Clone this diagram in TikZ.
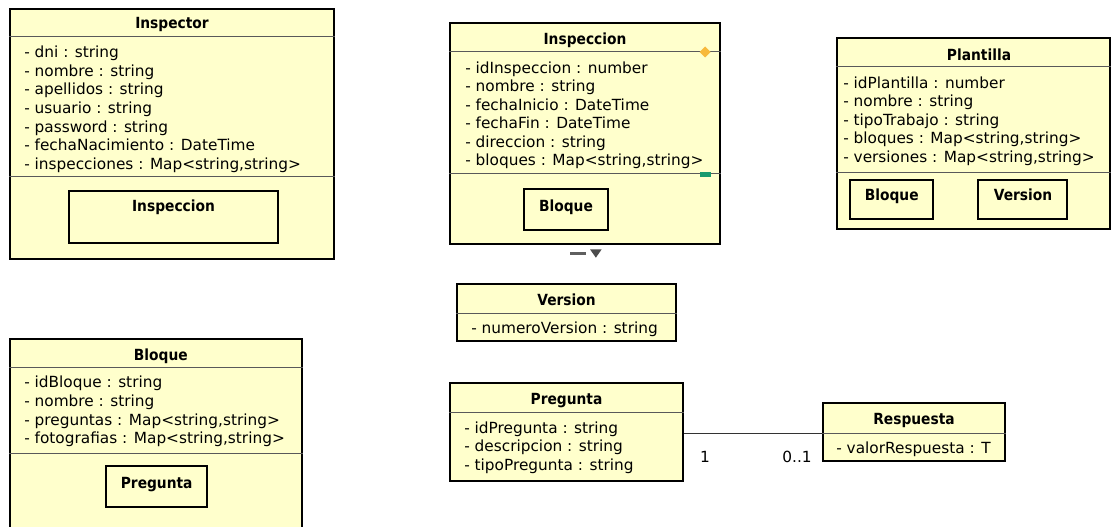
\documentclass[tikz,border=0pt]{standalone}
\usepackage{fontspec}
\setmainfont{DejaVu Sans}
\newfontfamily\titlefont{DejaVu Sans}[FakeStretch=0.9]
\usetikzlibrary{fit}
\definecolor{classfill}{RGB}{255,255,204}
\definecolor{markorange}{RGB}{247,185,60}
\definecolor{markgreen}{RGB}{24,155,110}
\definecolor{markgray}{RGB}{95,95,95}
\tikzset{
  classbox/.style={draw=black, line width=1.5pt, fill=classfill, inner sep=0pt},
  partbox/.style={draw=black, line width=1.5pt, inner sep=0pt},
  divider/.style={draw=black!65, line width=0.75pt},
  assoc/.style={draw=black!80, line width=0.75pt},
  title/.style={anchor=base, inner sep=0pt, font=\titlefont\bfseries\fontsize{11.5}{13}\selectfont},
  attr/.style={anchor=base west, inner sep=0pt, font=\fontsize{11.5}{13}\selectfont},
  mult/.style={inner sep=0pt, font=\fontsize{11.5}{13}\selectfont},
}
\begin{document}
\begin{tikzpicture}[x=0.75pt, y=-0.75pt]
\useasboundingbox (0,0) rectangle (1112,527);
\clip (0,0) rectangle (1112,527);

% ---------- Inspector ----------
\node[classbox, fit={(10,9) (334,259)}] (inspector) {};
\draw[divider] (inspector.west |- 0,37) -- (inspector.east |- 0,37);
\draw[divider] (inspector.west |- 0,177) -- (inspector.east |- 0,177);
\node[title] (inspector-title) at (172,29) {Inspector};
\foreach \t [count=\i] in {{- dni : string}, {- nombre : string}, {- apellidos : string},
    {- usuario : string}, {- password : string}, {- fechaNacimiento : DateTime},
    {- inspecciones : Map<string,string>}}
  \node[attr, name=inspector-a\i] at ({24},{57.7+18.6*(\i-1)}) {\t};
\node[partbox, fit={(69,191) (278,243)}] (inspector-part) {};
\node[title] (inspector-part-label) at (173.5,211) {Inspeccion};

% ---------- Inspeccion ----------
\node[classbox, fit={(450,23) (720,244)}] (inspeccion) {};
\draw[divider] (inspeccion.west |- 0,52) -- (inspeccion.east |- 0,52);
\draw[divider] (inspeccion.west |- 0,174) -- (inspeccion.east |- 0,174);
\node[title] (inspeccion-title) at (585,44.3) {Inspeccion};
\foreach \t [count=\i] in {{- idInspeccion : number}, {- nombre : string},
    {- fechaInicio : DateTime}, {- fechaFin : DateTime}, {- direccion : string},
    {- bloques : Map<string,string>}}
  \node[attr, name=inspeccion-a\i] at ({465},{73.3+18.5*(\i-1)}) {\t};
\node[partbox, fit={(524,189) (608,230)}] (inspeccion-part) {};
\node[title] (inspeccion-part-label) at (566,211) {Bloque};
% markers on the compartments
\fill[markorange] (705,46.5) -- (710.5,52) -- (705,57.5) -- (699.5,52) -- cycle;
\fill[markgreen] (700.3,171.7) rectangle (710.7,177);
% collapse handle under the class
\fill[markgray] (570,251.5) rectangle (586,254.5);
\fill[black!70] (590,249.3) -- (601.7,249.3) -- (595.85,257.7) -- cycle;

% ---------- Plantilla ----------
\node[classbox, fit={(837,38) (1110,229)}] (plantilla) {};
\draw[divider] (plantilla.west |- 0,67) -- (plantilla.east |- 0,67);
\draw[divider] (plantilla.west |- 0,173) -- (plantilla.east |- 0,173);
\node[title] (plantilla-title) at (979,60.7) {Plantilla};
\foreach \t [count=\i] in {{- idPlantilla : number}, {- nombre : string},
    {- tipoTrabajo : string}, {- bloques : Map<string,string>},
    {- versiones : Map<string,string>}}
  \node[attr, name=plantilla-a\i] at ({843},{88.5+18.5*(\i-1)}) {\t};
\node[partbox, fit={(850,180) (933,219)}] (plantilla-part1) {};
\node[title] (plantilla-part1-label) at (891.7,200.7) {Bloque};
\node[partbox, fit={(978,180) (1067,219)}] (plantilla-part2) {};
\node[title] (plantilla-part2-label) at (1023,200.7) {Version};

% ---------- Bloque ----------
\node[classbox, fit={(10,339) (302,540)}] (bloque) {};
\draw[divider] (bloque.west |- 0,367) -- (bloque.east |- 0,367);
\draw[divider] (bloque.west |- 0,453) -- (bloque.east |- 0,453);
\node[title] (bloque-title) at (160.8,360.7) {Bloque};
\foreach \t [count=\i] in {{- idBloque : string}, {- nombre : string},
    {- preguntas : Map<string,string>}, {- fotografias : Map<string,string>}}
  \node[attr, name=bloque-a\i] at ({24},{387.7+18.7*(\i-1)}) {\t};
\node[partbox, fit={(106,466) (207,507)}] (bloque-part) {};
\node[title] (bloque-part-label) at (156.7,488.3) {Pregunta};

% ---------- Version ----------
\node[classbox, fit={(457,284) (676,341)}] (version) {};
\draw[divider] (version.west |- 0,313) -- (version.east |- 0,313);
\node[title] (version-title) at (566.5,305) {Version};
\node[attr] (version-a1) at (471,333.3) {- numeroVersion : string};

% ---------- Pregunta ----------
\node[classbox, fit={(450,383) (683,481)}] (pregunta) {};
\draw[divider] (pregunta.west |- 0,412) -- (pregunta.east |- 0,412);
\node[title] (pregunta-title) at (566.5,404.3) {Pregunta};
\foreach \t [count=\i] in {{- idPregunta : string}, {- descripcion : string},
    {- tipoPregunta : string}}
  \node[attr, name=pregunta-a\i] at ({464},{433.3+18.4*(\i-1)}) {\t};

% ---------- Respuesta ----------
\node[classbox, fit={(823,403) (1005,461)}] (respuesta) {};
\draw[divider] (respuesta.west |- 0,433) -- (respuesta.east |- 0,433);
\node[title] (respuesta-title) at (914,424.3) {Respuesta};
\node[attr] (respuesta-a1) at (836,453.3) {- valorRespuesta : T};

% ---------- association Pregunta -- Respuesta ----------
\draw[assoc] (pregunta.east |- 0,433) -- (respuesta.west |- 0,433);
\node[mult, anchor=base] (mult-pregunta) at (705,462.3) {1};
\node[mult, anchor=base east] (mult-respuesta) at (812,462.3) {0..1};
\end{tikzpicture}
\end{document}
